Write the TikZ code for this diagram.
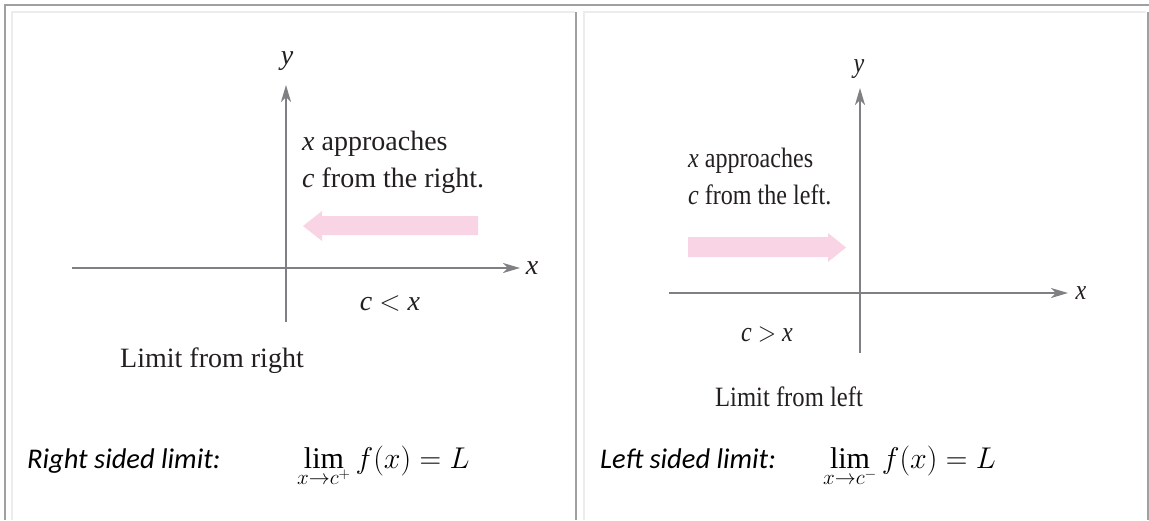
\documentclass[tikz,border=0pt]{standalone}
\usepackage{fontspec}
\usepackage{graphicx}
\usepackage{fix-cm}
\setmainfont{Liberation Serif}
\newfontfamily\calib{Carlito}
\usetikzlibrary{arrows.meta}
\definecolor{axisgray}{RGB}{128,128,132}
\definecolor{framedark}{RGB}{160,160,160}
\definecolor{framelight}{RGB}{236,236,236}
\definecolor{pinkarrow}{RGB}{249,212,228}
\definecolor{inkc}{RGB}{35,31,32}
\tikzset{
  axis/.style={draw=axisgray, line width=2.2pt, -{Stealth[length=17pt,width=10pt,inset=5pt]}},
  framed/.style={draw=framedark, line width=2pt},
  framel/.style={draw=framelight, line width=2pt},
  lbl/.style={inner sep=0pt, text=inkc, font=\fontsize{28}{34}\selectfont},
  caption/.style={inner sep=0pt, text=black, font=\calib\itshape\fontsize{28.5}{33}\selectfont},
  formula/.style={inner sep=0pt, text=black, font=\fontsize{30}{34}\selectfont},
  pinkfill/.style={fill=pinkarrow, draw=none}
}
\begin{document}
\begin{tikzpicture}[x=1pt,y=-1pt]
\useasboundingbox (0,0) rectangle (1149,520);
% frame
\coordinate (tl) at (5,5); \coordinate (tr) at (1149,5);
\coordinate (bl) at (5,520);
\coordinate (mt) at (576,12); \coordinate (mb) at (576,520);
\coordinate (rt) at (1148,12); \coordinate (rb) at (1148,520);
\draw[framed] (bl) -- (tl) -- (tr);
\draw[framed] (mt) -- (mb);
\draw[framed] (rt) -- (rb);
\coordinate (l1) at (12,520); \coordinate (l2) at (12,12); \coordinate (l3) at (575,12);
\coordinate (r1) at (584,520); \coordinate (r2) at (584,12); \coordinate (r3) at (1146,12);
\draw[framel] (l1) -- (l2) -- (l3);
\draw[framel] (r1) -- (r2) -- (r3);

% ---------- left panel ----------
\coordinate (Lxa) at (72,268); \coordinate (Lxb) at (520,268);
\coordinate (Lya) at (286,322); \coordinate (Lyb) at (286,85);
\draw[axis] (Lxa) -- (Lxb);
\draw[axis] (Lya) -- (Lyb);
\node[lbl, anchor=center] (Lxl) at (532,268) {\textit{x}};
\node[lbl, anchor=center] (Lyl) at (287,61) {\textit{y}};
\fill[pinkfill] (478,216) -- (322,216) -- (322,211) -- (303,226) -- (322,241) -- (322,235) -- (478,235) -- cycle;
\node[lbl, anchor=base west] (Lt1) at (302,150) {\textit{x} approaches};
\node[lbl, anchor=base west] (Lt2) at (302,187) {\textit{c} from the right.};
\node[lbl, anchor=base] (Lcx) at (390,310) {\textit{c} $<$ \textit{x}};
\node[lbl, anchor=base] (Llim) at (212,367) {Limit from right};
\node[caption, anchor=base west] (Lcap) at (27,468) {Right sided limit:};
\node[formula, anchor=base west] (Lf) at (297,468) {$\displaystyle\lim_{x\to c^{+}} f(x) = L$};

% ---------- right panel ----------
\coordinate (Rxa) at (669,293); \coordinate (Rxb) at (1068,293);
\coordinate (Rya) at (860,353); \coordinate (Ryb) at (860,88);
\draw[axis] (Rxa) -- (Rxb);
\draw[axis] (Rya) -- (Ryb);
\node[lbl, anchor=center] (Rxl) at (1081,293) {\scalebox{0.86}[1]{\textit{x}}};
\node[lbl, anchor=center] (Ryl) at (859,69) {\scalebox{0.86}[1]{\textit{y}}};
\fill[pinkfill] (688,237) -- (828,237) -- (828,233) -- (846,247.5) -- (828,262) -- (828,257) -- (688,257) -- cycle;
\node[lbl, anchor=base west] (Rt1) at (688,167) {\scalebox{0.86}[1]{\textit{x} approaches}};
\node[lbl, anchor=base west] (Rt2) at (688,204) {\scalebox{0.86}[1]{\textit{c} from the left.}};
\node[lbl, anchor=base] (Rcx) at (767,341) {\scalebox{0.86}[1]{\textit{c} $>$ \textit{x}}};
\node[lbl, anchor=base] (Rlim) at (789,406) {\scalebox{0.88}[1]{Limit from left}};
\node[caption, anchor=base west] (Rcap) at (600,468) {Left sided limit:};
\node[formula, anchor=base west] (Rf) at (823,468) {$\displaystyle\lim_{x\to c^{-}} f(x) = L$};
\end{tikzpicture}
\end{document}
